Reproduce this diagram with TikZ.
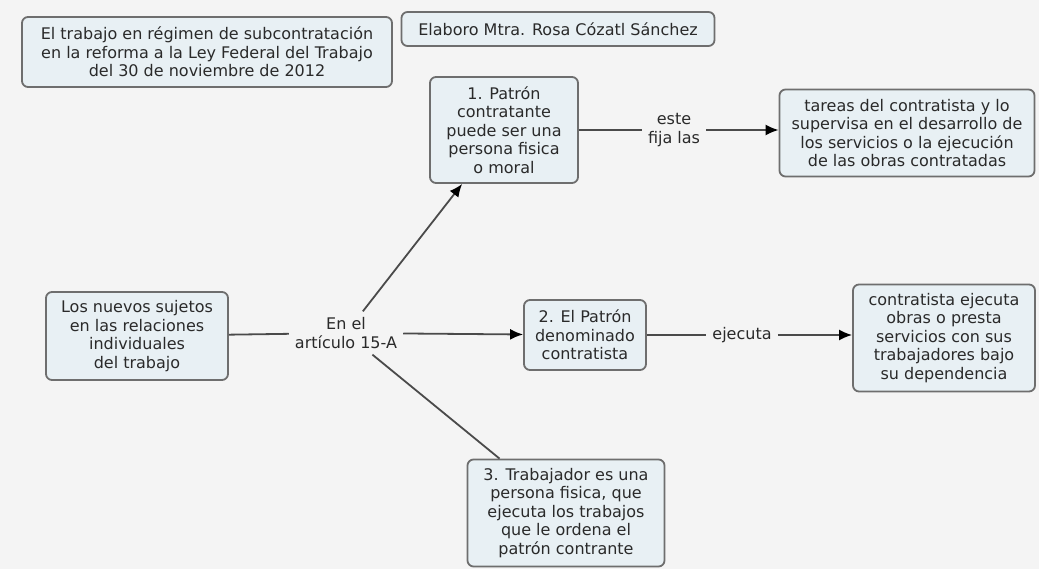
\documentclass[tikz,border=0pt]{standalone}
\usepackage{fontspec}
\setmainfont{DejaVu Sans}
\usetikzlibrary{arrows.meta}
\definecolor{bg}{HTML}{F4F4F4}
\definecolor{boxfill}{HTML}{E8F0F4}
\definecolor{boxline}{HTML}{6E6E6E}
\definecolor{ink}{HTML}{2A2A2A}
\definecolor{linkline}{HTML}{4A4A4A}
\begin{document}
\begin{tikzpicture}[x=1pt, y=-1pt,
        concept/.style={draw=boxline, fill=boxfill, rounded corners=6pt, line width=1.8pt,
            align=center, text=ink, font=\fontsize{16}{18.5}\selectfont, inner sep=2pt},
        linking/.style={align=center, text=ink, font=\fontsize{16}{18.5}\selectfont, inner sep=6pt},
        link/.style={draw=linkline, line width=1.8pt},
        arrow/.style={link, -{Latex[length=13pt, width=11pt, color=black]}}]
    \fill[bg] (0, 0) rectangle (1039, 569);
    \useasboundingbox (0, 0) rectangle (1039, 569);

    \node[concept, minimum width=370pt, minimum height=70pt] (titulo) at (207, 52)
        {El trabajo en régimen de subcontratación\\en la reforma a la Ley Federal del Trabajo\\del 30 de noviembre de 2012};
    \node[concept, minimum width=313pt, minimum height=34pt] (autora) at (558, 29)
        {Elaboro Mtra. Rosa Cózatl Sánchez};

    \node[concept, minimum width=182pt, minimum height=88pt] (sujetos) at (137, 336)
        {Los nuevos sujetos\\en las relaciones\\individuales\\del trabajo};
    \node[linking] (articulo) at (346, 333) {En el\\artículo 15-A};

    \node[concept, minimum width=148pt, minimum height=106pt] (patron) at (504, 130)
        {1. Patrón\\contratante\\puede ser una\\persona fisica\\o moral};
    \node[linking] (fija) at (674, 130) {este\\fija las};
    \node[concept, minimum width=255pt, minimum height=87pt] (tareas) at (907, 133)
        {tareas del contratista y lo\\supervisa en el desarrollo de\\los servicios o la ejecución\\de las obras contratadas};

    \node[concept, minimum width=122pt, minimum height=70pt] (contratista) at (585, 335)
        {2. El Patrón\\denominado\\contratista};
    \node[linking] (ejecuta) at (742, 335) {ejecuta};
    \node[concept, minimum width=182pt, minimum height=107pt] (obras) at (944, 338)
        {contratista ejecuta\\obras o presta\\servicios con sus\\trabajadores bajo\\su dependencia};

    \node[concept, minimum width=197pt, minimum height=107pt] (trabajador) at (566, 513)
        {3. Trabajador es una\\persona fisica, que\\ejecuta los trabajos\\que le ordena el\\patrón contrante};

    \draw[link] (sujetos) -- (articulo);
    \draw[arrow] (articulo) -- (patron);
    \draw[arrow] (articulo) -- (contratista);
    \draw[link] (articulo) -- (trabajador);
    \draw[link] (patron) -- (fija);
    \draw[arrow] (fija) -- (fija -| tareas.west);
    \draw[link] (contratista) -- (ejecuta);
    \draw[arrow] (ejecuta) -- (ejecuta -| obras.west);
\end{tikzpicture}
\end{document}
